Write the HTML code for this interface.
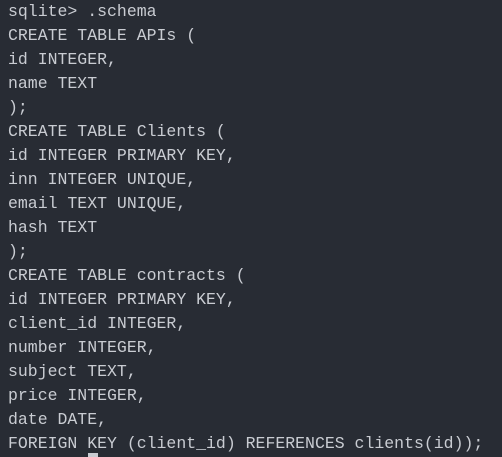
<!DOCTYPE html>
<html><head><meta charset="utf-8"><style>
html,body{margin:0;padding:0;background:#282c34;}
body{width:502px;height:457px;overflow:hidden;position:relative;}
pre{margin:0;position:absolute;left:8px;top:0px;font-family:"Liberation Mono",monospace;font-size:16.5px;line-height:24px;color:#c9ccd2;}
.cur{position:absolute;left:88px;top:453px;width:10px;height:4px;background:#c9ccd2;}
</style></head><body>
<pre>sqlite&gt; .schema
CREATE TABLE APIs (
id INTEGER,
name TEXT
);
CREATE TABLE Clients (
id INTEGER PRIMARY KEY,
inn INTEGER UNIQUE,
email TEXT UNIQUE,
hash TEXT
);
CREATE TABLE contracts (
id INTEGER PRIMARY KEY,
client_id INTEGER,
number INTEGER,
subject TEXT,
price INTEGER,
date DATE,
FOREIGN KEY (client_id) REFERENCES clients(id));</pre>
<div class="cur"></div>
</body></html>
